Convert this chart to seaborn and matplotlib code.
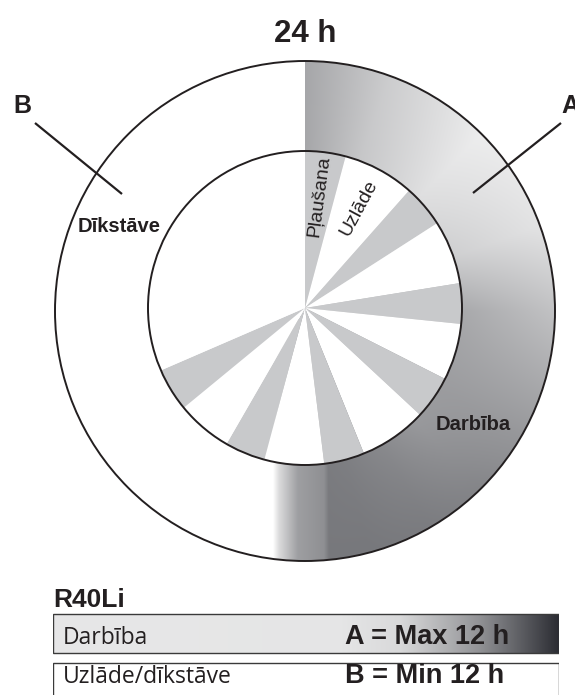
import numpy as np
import pandas as pd
import matplotlib
matplotlib.use('Agg')
import matplotlib.pyplot as plt
from matplotlib.patches import Circle
import seaborn as sns

# Données (heures sur 24 h)
ring_labels = ['A', 'B']
ring_hours = [12, 12]                                   # A = Darbība, B = Uzlāde/dīkstāve
mow_hours = [1.0, 1.05, 1.0, 1.07, 1.0, 1.0, 1.07]      # Pļaušana
charge_hours = [1.77, 1.57, 1.4, 1.67, 1.47, 1.37]      # Uzlāde
inner_labels = ['Pļaušana', 'Uzlāde']
table_rows = ['Darbība', 'Uzlāde/dīkstāve']
table_values = ['A = Max 12 h', 'B = Min 12 h']
table_hours = [12, 12]
title = '24 h'
model = 'R40Li'

ink = '#231f20'
light = '#c8c9cb'
dark = '#76777b'

sns.set_theme(style='white')
plt.rcParams['font.family'] = ['Liberation Sans', 'DejaVu Sans']

W, H = 575, 695
fig = plt.figure(figsize=(W / 100, H / 100), dpi=100)
ax_t = fig.add_axes([53 / W, (H - 717) / H, 506 / W, 108 / H])
ax = fig.add_axes([0, 0, 1, 1])
ax.patch.set_visible(False)


def tint(v):
    v = np.clip(v, 0, 1)
    return np.dstack([v, np.clip(v + 0.006 * (1 - v), 0, 1), np.clip(v + 0.035 * (1 - v), 0, 1)])


# Tableau du bas (barres seaborn)
df_t = pd.DataFrame({'ligne': table_rows, 'heures': table_hours})
sns.barplot(data=df_t, x='heures', y='ligne', orient='h', color='white', saturation=1,
            edgecolor='#3a3a3a', linewidth=1.0, width=0.8, ax=ax_t)
bar = ax_t.patches[0]
bar.set_facecolor('none')
# la seconde case continue sous le bord de l'image
ax_t.patches[1].set_height(1.0)
xpx = np.linspace(53, 559, 500)
g = np.interp(xpx, [53, 340, 400, 450, 480, 510, 540, 559],
              [0.905, 0.9, 0.85, 0.68, 0.57, 0.42, 0.27, 0.17])
img_t = ax_t.imshow(tint(g[None, :]), extent=(0, max(table_hours), 0.4, -0.4),
                    aspect='auto', interpolation='bilinear', zorder=0.5)
img_t.set_clip_path(bar)
ax_t.set_xlim(0, max(table_hours))
ax_t.set_ylim(1.7, -0.5)
ax_t.axis('off')

# Anneau extérieur
cx, cy_o, cy_i = 305, H - 311, H - 308
r_out, r_in = 250, 157
ax.pie(ring_hours, colors=[dark, 'white'], center=(cx, cy_o), radius=r_out,
       startangle=90, counterclock=False, wedgeprops=dict(linewidth=0))

xs = np.arange(55, 557) + 0.5
ys = np.arange(59, 564) + 0.5
X, Y = np.meshgrid(xs, ys)
dx, dy = X - cx, Y - 311
th = np.degrees(np.arctan2(dx, -dy)) % 360
rr = np.hypot(dx, dy)
end = 360 * ring_hours[0] / sum(ring_hours)
v = np.interp(th, [0, 20, 45, 70, 90, 120, 135, 150, 165, end],
              [0.65, 0.79, 0.90, 0.85, 0.71, 0.60, 0.56, 0.51, 0.48, 0.47])
v = v + np.interp(th, [0, 45, 90, 135, end], [0, 0.03, 0.05, -0.04, 0]) * np.clip((rr - 203) / 47, -1, 1)
bottom = np.interp(X, [273, 279, 298, 324, 329], [1.0, 0.86, 0.62, 0.56, 0.47])
near = (th > 150) & (th < end + 40)
v = np.where(near, np.maximum(v, bottom), v)
v = np.where(th >= end + 40, 1.0, v)
img = ax.imshow(tint(v), extent=(55, 557, H - 564, H - 59), origin='upper',
                interpolation='bilinear', zorder=1.5)
img.set_clip_path(Circle((cx, cy_o), r_out, transform=ax.transData))

# Disque intérieur : tonte / charge
inner_hours = []
inner_colors = []
for i, m in enumerate(mow_hours):
    inner_hours.append(m)
    inner_colors.append(light)
    if i < len(charge_hours):
        inner_hours.append(charge_hours[i])
        inner_colors.append('white')
inner_hours.append(24 - sum(inner_hours))
inner_colors.append('white')
ax.pie(inner_hours, colors=inner_colors, center=(cx, cy_i), radius=r_in,
       startangle=90, counterclock=False, wedgeprops=dict(linewidth=0, zorder=2))

ax.add_patch(Circle((cx, cy_o), r_out, fill=False, ec=ink, lw=1.4, zorder=3))
ax.add_patch(Circle((cx, cy_i), r_in, fill=False, ec=ink, lw=1.4, zorder=3))

edges = np.concatenate([[0], np.cumsum(inner_hours)]) * 360 / 24
for k, lab in enumerate(inner_labels):
    mid = np.radians((edges[k] + edges[k + 1]) / 2)
    ax.text(cx + 113 * np.sin(mid), cy_i + 113 * np.cos(mid), lab,
            rotation=90 - np.degrees(mid), rotation_mode='anchor',
            ha='center', va='center', fontsize=14, color=ink, zorder=5)

# Textes et repères
ax.text(cx, H - 42, title, ha='center', va='baseline', fontsize=22.5, fontweight='bold', color=ink)
ax.text(13, H - 113, ring_labels[1], ha='left', va='baseline', fontsize=18, fontweight='bold', color=ink)
ax.text(561, H - 113, ring_labels[0], ha='left', va='baseline', fontsize=18, fontweight='bold', color=ink)
ax.plot([35, 122], [H - 123, H - 194], color=ink, lw=1.6, solid_capstyle='butt', zorder=4)
ax.plot([561, 473], [H - 123, H - 193], color=ink, lw=1.6, solid_capstyle='butt', zorder=4)
ax.text(78, H - 232, 'Dīkstāve', ha='left', va='baseline', fontsize=14.5, fontweight='bold', color=ink, zorder=5)
ax.text(473, H - 430, 'Darbība', ha='center', va='baseline', fontsize=14.5, fontweight='bold', color=ink, zorder=5)

ax.text(53, H - 607, model, ha='left', va='baseline', fontsize=19, fontweight='bold', color=ink)
for j, (lab, val) in enumerate(zip(table_rows, table_values)):
    base = [644.5, 683][j]
    ax.text(63, H - base, lab, ha='left', va='baseline', fontsize=16.5, family='Open Sans', color=ink)
    ax.text(345, H - base, val, ha='left', va='baseline', fontsize=19.5, fontweight='bold', color=ink)

ax.set_xlim(0, W)
ax.set_ylim(0, H)
ax.set_aspect('auto')
ax.axis('off')

fig.savefig('out.png', dpi=100)
